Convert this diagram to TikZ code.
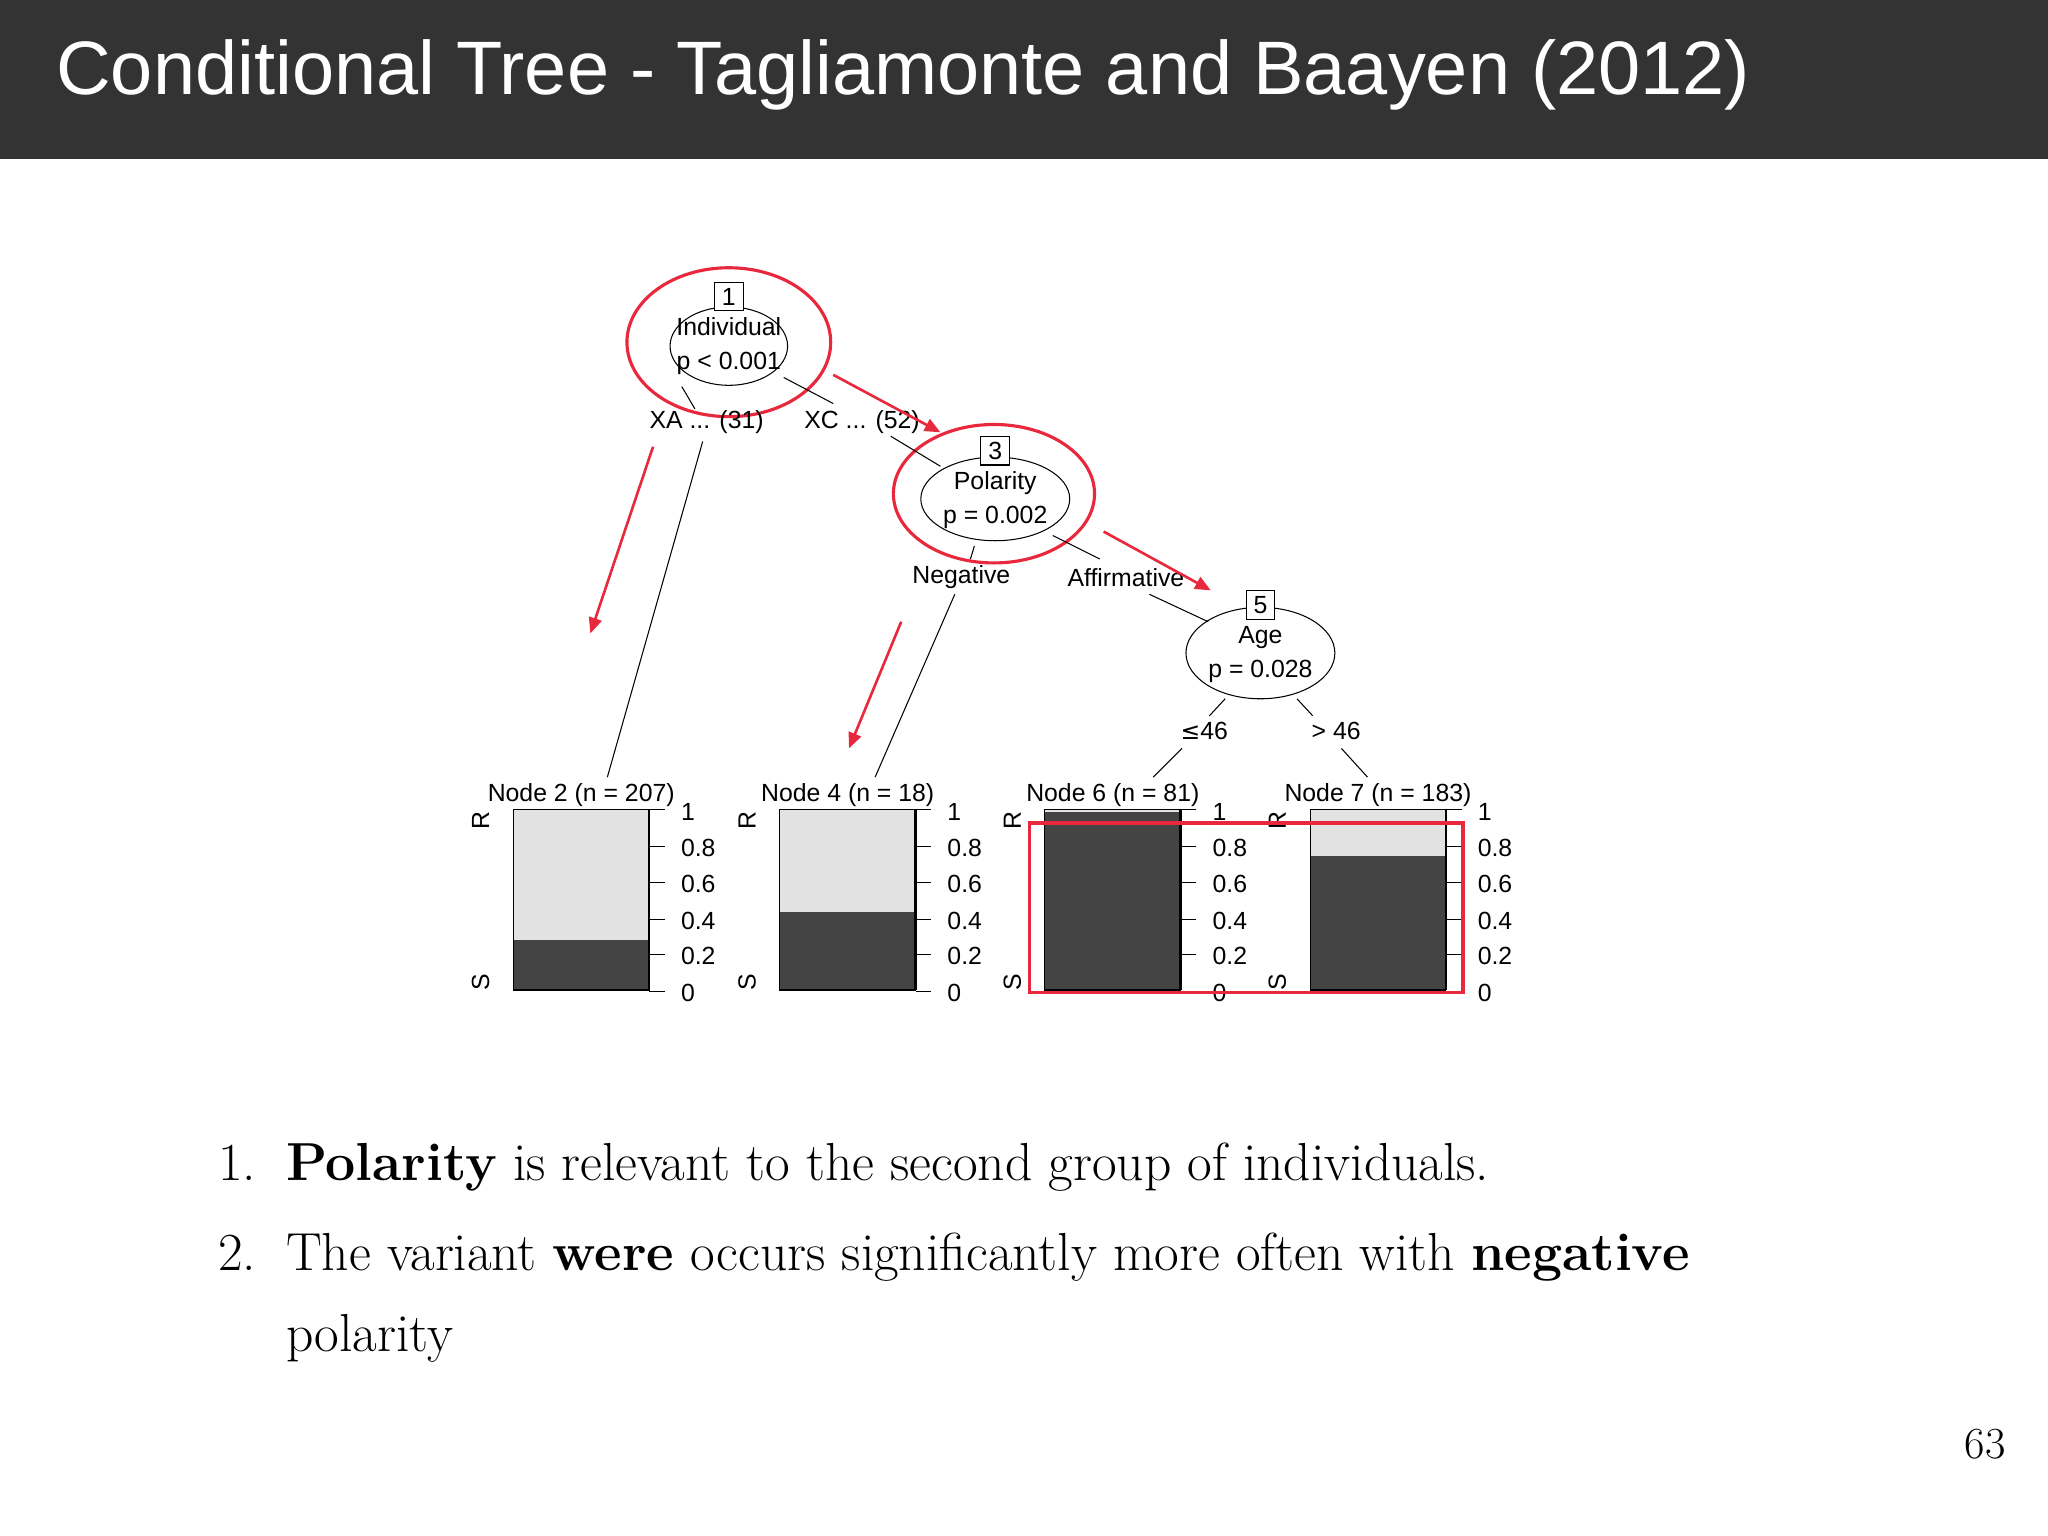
\documentclass[tikz,border=0pt]{standalone}
\usepackage{fontspec}
\setsansfont{Liberation Sans}
\newfontfamily\symf{DejaVu Sans}
\usetikzlibrary{arrows.meta}
\definecolor{darkbar}{HTML}{333333}
\definecolor{barfill}{HTML}{444444}
\definecolor{lightfill}{HTML}{E2E2E2}
\definecolor{redc}{HTML}{E8283C}
\begin{document}
\begin{tikzpicture}[x=0.5pt,y=-0.5pt,
  tt/.style={font=\sffamily\fontsize{9.5}{11}\selectfont,inner sep=0pt},
  ell/.style={draw,ellipse,thin},
  numbox/.style={draw,thin,fill=white,font=\sffamily\fontsize{9.5}{11}\selectfont,inner sep=1.5pt,minimum size=11pt},
  redell/.style={draw=redc,line width=1.2pt},
  redarr/.style={draw=redc,line width=1pt,-{Triangle[length=6pt,width=5pt]}},
  edge/.style={thin}]
\useasboundingbox (0,0) rectangle (1568,1176);
\fill[white] (0,0) rectangle (1568,1176);
\fill[darkbar] (0,0) rectangle (1568,122);
\node[anchor=west,text=white,font=\sffamily\fontsize{29}{34}\selectfont] (title) at (36,57) {Conditional Tree - Tagliamonte and Baayen (2012)};

% node 1
\draw[thin] (558,265) ellipse [x radius=45,y radius=30];
\node[tt,align=center] (n1) at (558,265) {Individual\\[2pt]p < 0.001};
\node[numbox] (b1) at (558,227) {1};
\draw[redell] (558,262) ellipse [x radius=78,y radius=57];
% node 3
\draw[thin] (762,382) ellipse [x radius=57,y radius=32];
\node[tt,align=center] (n3) at (762,383) {Polarity\\[2pt]p = 0.002};
\node[numbox] (b3) at (762,345) {3};
\draw[redell] (761,378) ellipse [x radius=77,y radius=53];
% node 5
\draw[thin] (965,500) ellipse [x radius=57,y radius=35];
\node[tt,align=center] (n5) at (965,501) {Age\\[2pt]p = 0.028};
\node[numbox] (b5) at (965,463) {5};

% edge labels
\node[tt] (l1) at (541,323) {XA ... (31)};
\node[tt] (l2) at (660,323) {XC ... (52)};
\node[tt] (l3) at (736,442) {Negative};
\node[tt] (l4) at (862,442) {Affirmative};
\node[tt] (l5) at (922,560) {{\symf\fontsize{9}{11}\selectfont ≤}46};
\node[tt] (l6) at (1023,560) {> 46};

% edges
\draw[edge] (522,296) -- (532,313);
\draw[edge] (538,338) -- (465,595);
\draw[edge] (600,289) -- (638,309);
\draw[edge] (682,334) -- (720,357);
\draw[edge] (746,418) -- (743,428);
\draw[edge] (731,455) -- (670,595);
\draw[edge] (806,410) -- (842,428);
\draw[edge] (880,455) -- (925,476);
\draw[edge] (938,535) -- (926,548);
\draw[edge] (905,573) -- (883,595);
\draw[edge] (993,535) -- (1005,548);
\draw[edge] (1027,573) -- (1047,595);

% bar charts
\foreach \bx/\top/\lab/\nm in {393/720/{Node 2 (n = 207)}/a, 597/698/{Node 4 (n = 18)}/b, 800/622/{Node 6 (n = 81)}/c, 1003/655/{Node 7 (n = 183)}/d}{
  \fill[lightfill] (\bx,620) rectangle (\bx+104,\top);
  \fill[barfill] (\bx,\top) rectangle (\bx+104,758);
  \draw[thin] (\bx,620) rectangle (\bx+104,758);
  \draw[line width=1pt] (\bx,758) -- (\bx+104,758);
  \draw[line width=1pt] (\bx+104,620) -- (\bx+104,758);
  \node[tt] (h\nm) at (\bx+52,609) {\lab};
  \node[tt,rotate=90] (r\nm) at (\bx-25,628) {R};
  \node[tt,rotate=90] (s\nm) at (\bx-25,752) {S};
  \foreach \v/\yy in {1/620,0.8/648,0.6/676,0.4/704,0.2/731,0/759}{
    \draw[thin] (\bx+104,\yy) -- (\bx+116,\yy);
  }
  \node[tt,anchor=west] at (\bx+128,622) {1};
  \node[tt,anchor=west] at (\bx+128,649) {0.8};
  \node[tt,anchor=west] at (\bx+128,677) {0.6};
  \node[tt,anchor=west] at (\bx+128,705) {0.4};
  \node[tt,anchor=west] at (\bx+128,732) {0.2};
  \node[tt,anchor=west] at (\bx+128,760) {0};
}

% red annotations
\draw[draw=redc,line width=1.3pt] (788,630) rectangle (1120,760);
\coordinate (a1s) at (500,342); \coordinate (a1e) at (452,485);
\coordinate (a2s) at (690,476); \coordinate (a2e) at (650,573);
\coordinate (a3s) at (638,287); \coordinate (a3e) at (720,331);
\coordinate (a4s) at (845,407); \coordinate (a4e) at (927,452);
\draw[redarr] (a1s) -- (a1e);
\draw[redarr] (a2s) -- (a2e);
\draw[redarr] (a3s) -- (a3e);
\draw[redarr] (a4s) -- (a4e);

% text
\node[anchor=base west,font=\fontsize{20.5}{25}\selectfont] (i1n) at (160,904) {1.};
\node[anchor=base west,font=\fontsize{20.5}{25}\selectfont] (i1) at (212,904) {\textbf{Polarity} is relevant to the second group of individuals.};
\node[anchor=base west,font=\fontsize{20.5}{25}\selectfont] (i2n) at (160,973) {2.};
\node[anchor=base west,font=\fontsize{20.5}{25}\selectfont] (i2) at (212,973) {The variant \textbf{were} occurs significantly more often with \textbf{negative}};
\node[anchor=base west,font=\fontsize{20.5}{25}\selectfont] (i3) at (212,1035) {polarity};
\node[font=\fontsize{17}{20}\selectfont] (pg) at (1520,1106) {63};
\end{tikzpicture}
\end{document}
